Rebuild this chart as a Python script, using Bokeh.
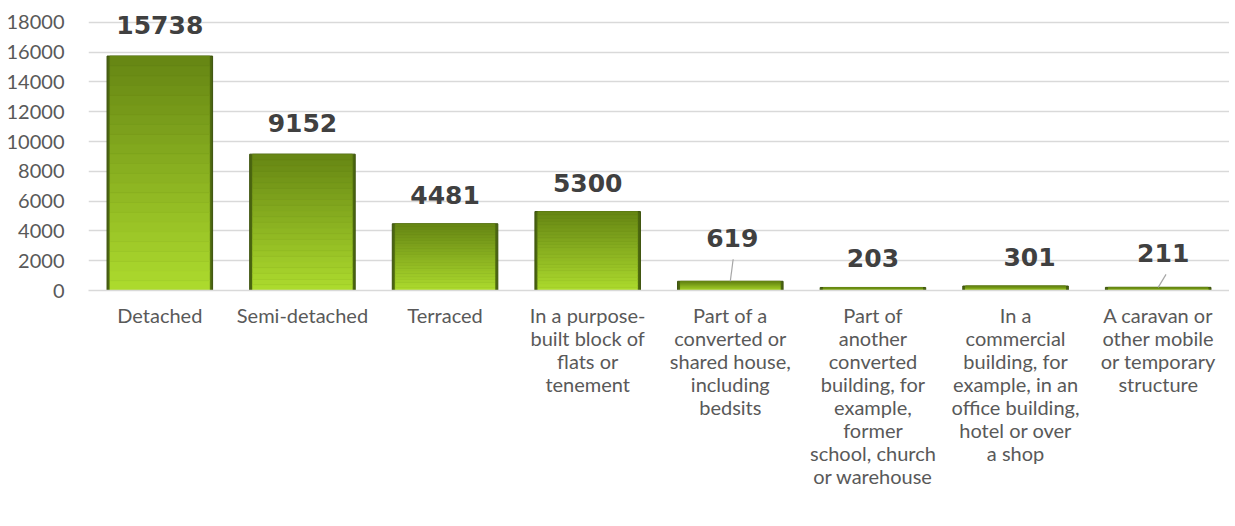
from bokeh.plotting import figure
from bokeh.embed import file_html
from bokeh.resources import INLINE
from bokeh.models import ColumnDataSource, FixedTicker, Range1d, FactorRange
from bokeh.core.properties import value
from bokeh.transform import dodge

categories = [
    "Detached",
    "Semi-detached",
    "Terraced",
    "In a purpose-\nbuilt block of\nflats or\ntenement",
    "Part of a\nconverted or\nshared house,\nincluding\nbedsits",
    "Part of\nanother\nconverted\nbuilding, for\nexample,\nformer\nschool, church\nor warehouse",
    "In a\ncommercial\nbuilding, for\nexample, in an\noffice building,\nhotel or over\na shop",
    "A caravan or\nother mobile\nor temporary\nstructure",
]
values = [15738, 9152, 4481, 5300, 619, 203, 301, 211]
y_ticks = [0, 2000, 4000, 6000, 8000, 10000, 12000, 14000, 16000, 18000]

# label styling (screen offsets, px)
label_dx = [0, 0, 0, 0, 2, 0, 14, 5]
label_dy = [-31, -31, -29, -29, -43, -29, -29, -34]
leader_len = [0, 0, 0, 0, 22, 0, 0, 13]     # px
leader_lean = [0, 0, 0, 0, 0.02, 0, 0, 0.055]  # category units

FONT = "Lato"
Y_END = 19400

p = figure(
    x_range=FactorRange(*categories, range_padding=0),
    y_range=Range1d(0, Y_END),
    width=1229, height=510,
    output_backend="svg", toolbar_location=None,
    min_border_left=88, min_border_right=0, min_border_top=1, min_border_bottom=220,
)
p.outline_line_color = None
p.background_fill_color = "white"
p.border_fill_color = "white"

# gradient bars built as stacked slices of each value
N = 24
top_col = (0x66, 0x86, 0x14)
bot_col = (0xae, 0xdc, 0x2e)
def mix(t):
    return "#%02x%02x%02x" % tuple(int(a + (b - a) * t) for a, b in zip(top_col, bot_col))

# dark outer bevel
p.vbar(x=categories, top=values, width=0.74, fill_color="#4b6610", line_color="#3c520c", line_width=1)
for k in range(N):
    bottoms = [v * k / N for v in values]
    tops = [v * (k + 1) / N for v in values]
    t = 1 - (k + 0.5) / N  # 1 at bottom, 0 at top
    col = mix(t)
    p.vbar(x=categories, bottom=bottoms, top=tops, width=0.70,
           fill_color=col, line_color=col, line_width=0.6)

# leader lines (from bar top up toward the moved labels)
px = 18000 / 268
for c, v, ln, lean in zip(categories, values, leader_len, leader_lean):
    if ln:
        src = ColumnDataSource(dict(x=[c], y0=[v], y1=[v + ln * px]))
        p.segment(x0="x", y0="y0", x1=dodge("x", lean, range=p.x_range), y1="y1",
                  source=src, line_color="#a6a6a6", line_width=1.2)

lsrc = ColumnDataSource(dict(x=categories, y=values, t=[str(v) for v in values],
                             dx=label_dx, dy=label_dy))
p.text(x="x", y="y", text="t", source=lsrc, x_offset="dx", y_offset="dy",
       text_font=value("DejaVu Sans"), text_font_style="bold", text_font_size="25px",
       text_color="#404040", text_align="center", text_baseline="alphabetic")

p.yaxis.ticker = FixedTicker(ticks=y_ticks)
p.yaxis.major_label_text_font = FONT
p.yaxis.major_label_text_font_size = "20px"
p.yaxis.major_label_text_color = "#595959"
p.yaxis.axis_line_color = None
p.yaxis.major_tick_line_color = None
p.yaxis.minor_tick_line_color = None
p.yaxis.major_label_standoff = 18

p.xaxis.major_label_text_font = FONT
p.xaxis.major_label_text_font_size = "20px"
p.xaxis.major_label_text_color = "#595959"
p.xaxis.major_label_text_line_height = 0.96
p.xaxis.axis_line_color = "#d9d9d9"
p.xaxis.axis_line_width = 1.5
p.xaxis.major_tick_line_color = None
p.xaxis.minor_tick_line_color = None
p.xaxis.major_label_standoff = 6

p.xgrid.grid_line_color = None
p.ygrid.grid_line_color = "#d9d9d9"
p.ygrid.grid_line_width = 1.5

open("out.html", "w").write(file_html(p, INLINE))
